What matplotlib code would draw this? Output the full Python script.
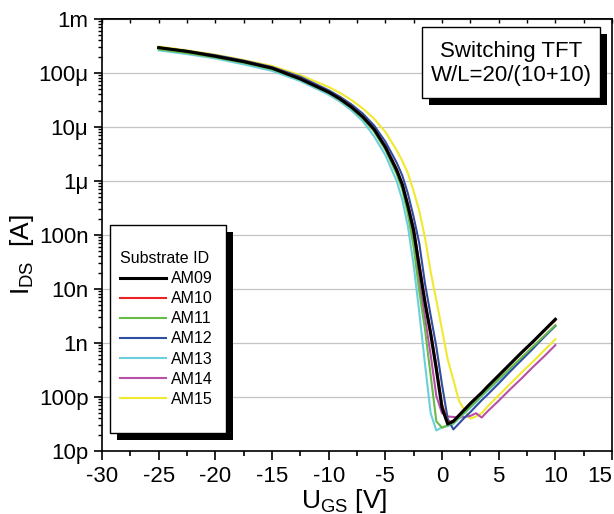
import numpy as np
import matplotlib
matplotlib.use("Agg")
import matplotlib.pyplot as plt
from matplotlib.patches import Rectangle
from matplotlib.ticker import FixedLocator, FixedFormatter, MultipleLocator, NullFormatter

plt.rcParams["font.family"] = ["Liberation Sans", "DejaVu Sans"]
plt.rcParams["mathtext.fontset"] = "custom"
plt.rcParams["mathtext.rm"] = "Liberation Sans"
plt.rcParams["mathtext.it"] = "Liberation Sans"
plt.rcParams["axes.unicode_minus"] = False

# gate voltage [V]
u_gs = [-25, -22.5, -20, -17.5, -15, -12.5, -10, -9, -8, -7, -6, -5, -4, -3.5, -3, -2.5, -2, -1.5,
        -1, -0.5, 0, 0.5, 1, 1.5, 2, 2.5, 3, 3.5, 4, 5, 6, 7, 8, 9, 10]

# log10 of drain current [A]
am09 = [-3.53, -3.60, -3.69, -3.79, -3.91, -4.11, -4.355, -4.48, -4.63, -4.81, -5.04, -5.37, -5.80,
        -6.07, -6.47, -6.92, -7.60, -8.26, -8.83, -9.49, -10.20, -10.50, -10.45, -10.34, -10.23, -10.12,
        -10.02, -9.92, -9.81, -9.60, -9.39, -9.18, -8.98, -8.77, -8.56]
am10 = [-3.53, -3.60, -3.685, -3.785, -3.905, -4.10, -4.35, -4.47, -4.62, -4.80, -5.03, -5.35, -5.77,
        -6.04, -6.43, -6.87, -7.53, -8.19, -8.77, -9.42, -10.13, -10.47, -10.44, -10.34, -10.23, -10.12,
        -10.02, -9.92, -9.81, -9.61, -9.40, -9.19, -8.99, -8.78, -8.58]
am11 = [-3.56, -3.63, -3.71, -3.81, -3.93, -4.12, -4.37, -4.50, -4.65, -4.84, -5.08, -5.42, -5.87,
        -6.16, -6.62, -7.22, -8.05, -8.75, -9.60, -10.45, -10.57, -10.52, -10.48, -10.38, -10.28, -10.18,
        -10.08, -9.97, -9.87, -9.67, -9.47, -9.27, -9.07, -8.87, -8.67]
am12 = [-3.53, -3.59, -3.67, -3.77, -3.89, -4.07, -4.32, -4.44, -4.58, -4.75, -4.97, -5.27, -5.66,
        -5.90, -6.24, -6.67, -7.16, -7.90, -8.49, -9.07, -9.77, -10.40, -10.60, -10.49, -10.38, -10.28,
        -10.17, -10.06, -9.96, -9.75, -9.53, -9.32, -9.11, -8.89, -8.68]
am13 = [-3.58, -3.65, -3.73, -3.84, -3.96, -4.15, -4.40, -4.53, -4.69, -4.89, -5.17, -5.52, -6.00,
        -6.35, -6.85, -7.56, -8.44, -9.39, -10.30, -10.62, -10.56, -10.54, -10.50, -10.40, -10.30, -10.20,
        -10.10, -9.99, -9.89, -9.69, -9.49, -9.29, -9.09, -8.89, -8.69]
am14 = [-3.54, -3.61, -3.69, -3.80, -3.92, -4.12, -4.36, -4.49, -4.64, -4.82, -5.06, -5.40, -5.83,
        -6.11, -6.56, -7.10, -7.89, -8.54, -9.22, -9.98, -10.30, -10.36, -10.37, -10.38, -10.37, -10.35,
        -10.30, -10.38, -10.27, -10.07, -9.86, -9.66, -9.45, -9.25, -9.04]
am15 = [-3.51, -3.58, -3.66, -3.76, -3.87, -4.04, -4.26, -4.37, -4.50, -4.655, -4.845, -5.09, -5.43,
        -5.63, -5.86, -6.19, -6.56, -7.05, -7.68, -8.21, -8.75, -9.30, -9.68, -10.07, -10.25, -10.40,
        -10.36, -10.30, -10.18, -9.97, -9.76, -9.55, -9.35, -9.14, -8.93]

labels = ["AM09", "AM10", "AM11", "AM12", "AM13", "AM14", "AM15"]
series = [am09, am10, am11, am12, am13, am14, am15]
colors = ["#000000", "#ec2227", "#68bb46", "#2f4ea2", "#6ccfdc", "#b84fa8", "#f1e92f"]
widths = [2.2, 1.5, 1.5, 1.5, 1.5, 1.5, 1.5]

x_ticks = [-30, -25, -20, -15, -10, -5, 0, 5, 10, 15]
y_ticks = [1e-11, 1e-10, 1e-9, 1e-8, 1e-7, 1e-6, 1e-5, 1e-4, 1e-3]
y_ticklabels = ["10p", "100p", "1n", "10n", "100n", "1\u03bc", "10\u03bc", "100\u03bc", "1m"]

W, H = 614, 514
fig = plt.figure(figsize=(6.14, 5.14), dpi=100)
ax = fig.add_axes([102 / W, 1 - 451 / H, 510 / W, 432 / H])

handles = {}
# draw back to front so AM09 ends up on top
for i in range(len(series) - 1, -1, -1):
    (ln,) = ax.plot(u_gs, 10 ** np.array(series[i]), color=colors[i], lw=widths[i],
                    zorder=3 + (len(series) - i) * 0.1)
    handles[labels[i]] = ln

ax.set_yscale("log")
ax.set_xlim(-30, 15)
ax.set_ylim(1e-11, 1e-3)
ax.yaxis.set_major_locator(FixedLocator(y_ticks))
ax.yaxis.set_major_formatter(FixedFormatter(y_ticklabels))
minor = [m * 10.0 ** e for e in range(-11, -3) for m in range(2, 10)]
ax.yaxis.set_minor_locator(FixedLocator(minor))
ax.yaxis.set_minor_formatter(NullFormatter())
ax.xaxis.set_major_locator(FixedLocator(x_ticks))
ax.xaxis.set_major_formatter(FixedFormatter([str(v) for v in x_ticks]))
ax.xaxis.set_minor_locator(MultipleLocator(2.5))

ax.grid(axis="y", which="major", color="#c4c4c4", lw=0.9, zorder=1)
ax.set_axisbelow(True)
for s in ax.spines.values():
    s.set_linewidth(1.2)

ax.tick_params(axis="both", which="major", labelsize=16, width=1.2, direction="out", pad=4)
ax.tick_params(axis="x", which="major", length=6.5)
ax.tick_params(axis="x", which="minor", length=3.6, width=1.2)
ax.tick_params(axis="y", which="major", length=5.8)
ax.tick_params(axis="y", which="minor", length=3.0, width=1.0)
# keep the last label ("15") inside the figure
ax.xaxis.get_major_ticks()[-1].label1.set_horizontalalignment("right")

# small inward ticks along the top edge
top = ax.secondary_xaxis("top")
top.xaxis.set_major_locator(MultipleLocator(2.5))
top.tick_params(direction="in", length=3, width=1.0, labeltop=False)
top.spines["top"].set_linewidth(1.2)

ax.set_xlabel(r"U$_{\rm GS}$ [V]", fontsize=19)
ax.xaxis.set_label_coords(0.475, -0.132)
ax.xaxis.label.set_va("baseline")
ax.set_ylabel(r"I$_{\rm DS}$  [A]", fontsize=19)
ax.yaxis.set_label_coords(-0.143, 0.455)
ax.yaxis.label.set_va("baseline")

# boxes with drop shadow (legend and annotation)
def shadow_box(x0, y0, x1, y1, off=7):
    fig.add_artist(Rectangle(((x0 + off) / W, 1 - (y1 + off) / H), (x1 - x0) / W, (y1 - y0) / H,
                             transform=fig.transFigure, facecolor="black", edgecolor="none", zorder=2))
    fig.add_artist(Rectangle((x0 / W, 1 - y1 / H), (x1 - x0) / W, (y1 - y0) / H,
                             transform=fig.transFigure, facecolor="white", edgecolor="black",
                             lw=1.0, zorder=3))

shadow_box(110, 225, 226, 433)
shadow_box(422, 27, 600, 98)

fig.text(511 / W, 1 - 63.5 / H, "Switching TFT\nW/L=20/(10+10)", ha="center", va="center",
         fontsize=16, linespacing=1.24, zorder=4)

leg = fig.legend([handles[l] for l in labels], labels, loc="upper left",
                 bbox_to_anchor=(120 / W, 1 - 251 / H), bbox_transform=fig.transFigure,
                 frameon=False, title="Substrate ID", alignment="left", fontsize=11.5,
                 title_fontsize=11.5, handlelength=2.9, handletextpad=0.3, labelspacing=0.32,
                 borderpad=0, borderaxespad=0)
leg.set_zorder(5)

plt.savefig("out.png", dpi=100)
